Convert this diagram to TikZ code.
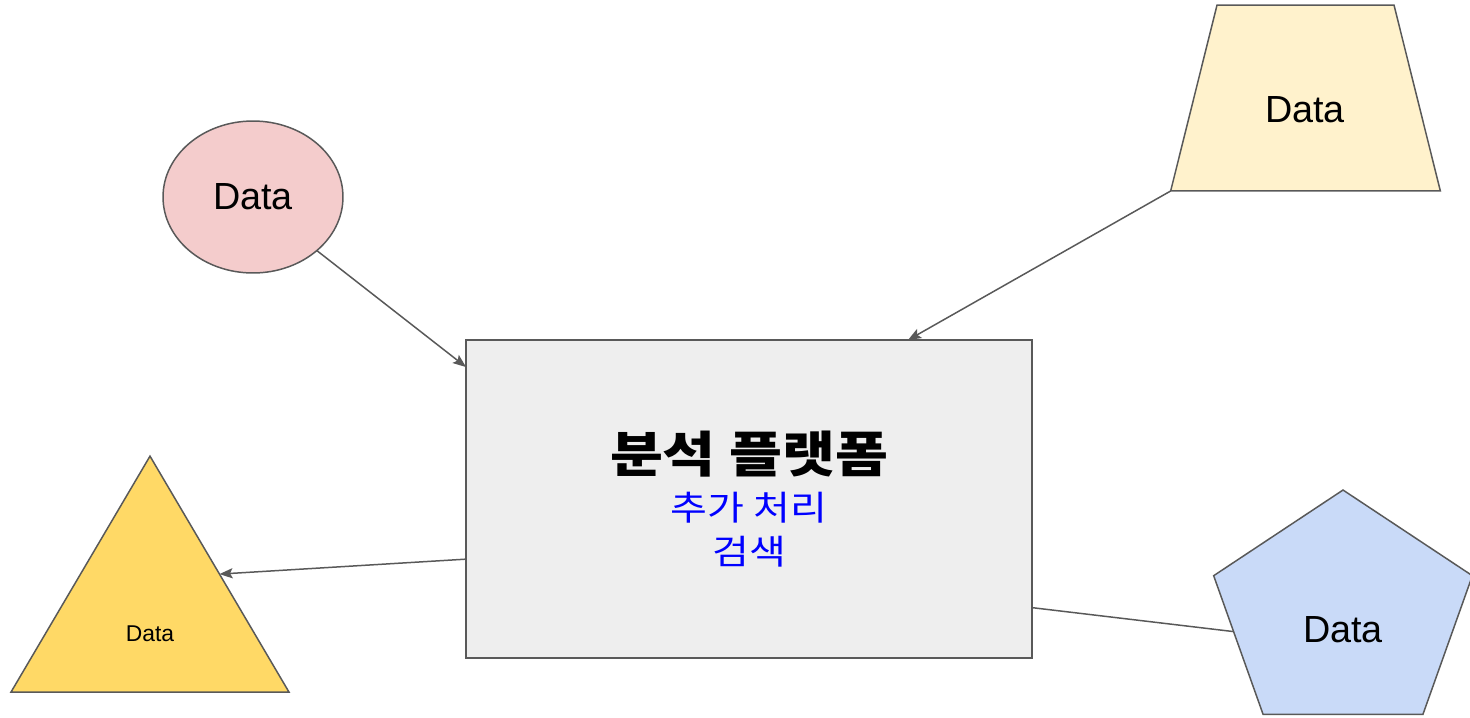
\documentclass[tikz,border=0pt]{standalone}
\usepackage{fontspec}
\setmainfont{Liberation Sans}
\newfontfamily\krfont[FakeStretch=1.17]{Noto Sans CJK KR}
\usetikzlibrary{shapes,arrows.meta,positioning}
\definecolor{linegray}{HTML}{595959}
\definecolor{pinkfill}{HTML}{F4CCCC}
\definecolor{creamfill}{HTML}{FFF2CC}
\definecolor{yellowfill}{HTML}{FFD966}
\definecolor{bluefill}{HTML}{C9DAF8}
\definecolor{grayfill}{HTML}{EEEEEE}

\begin{document}
\begin{tikzpicture}[x=0.02cm,y=-0.02cm]
		\tikzstyle{shapen} = [draw=linegray, line width=0.85pt, outer sep=0pt, inner sep=0pt];
		\tikzstyle{datatext} = [font=\fontsize{21.5pt}{26pt}\selectfont];
		\tikzstyle{conn} = [draw=linegray, line width=0.85pt];
		\tikzstyle{arr} = [conn, -{Stealth[length=7.5pt,width=5.8pt,inset=1.5pt]}];
		\useasboundingbox (0,0) rectangle (1470,717);
		\node[shapen, rectangle, fill=grayfill, minimum width=11.32cm, minimum height=6.36cm,
		align=center, font=\krfont\fontsize{19.5pt}{25pt}\selectfont](platform) at (749,499)
		{{\fontsize{28pt}{34pt}\selectfont\bfseries 분석 플랫폼}\\[2pt]
		{\color{blue}추가 처리}\\{\color{blue}검색}};
		\node[shapen, ellipse, fill=pinkfill, minimum width=3.6cm, minimum height=3.04cm, datatext](circ) at (253,197) {Data};
		\node[shapen, trapezium, trapezium left angle=76, trapezium right angle=76,
		fill=creamfill, text width=3.54cm, text height=3.72cm, text depth=0pt](trap) at (1305.5,98) {};
		\node[datatext](traptext) at (1305,110) {Data};
		\begin{scope}[shift={(150,613.4)}, yscale=0.98]
			\node[shapen, regular polygon, regular polygon sides=3, fill=yellowfill, minimum size=6.42cm, transform shape](tri) at (0,0) {};
		\end{scope}
		\node[font=\fontsize{13pt}{16pt}\selectfont](tritext) at (150,634) {Data};
		\begin{scope}[shift={(1343,614)}, xscale=1.097]
			\node[shapen, regular polygon, regular polygon sides=5, fill=bluefill, minimum size=4.96cm, transform shape](penta) at (0,0) {};
		\end{scope}
		\node[datatext](pentatext) at (1343,630) {Data};
		\draw[arr] (circ.-40.7) -- (platform.155.8);
		\draw[arr] (trap.bottom left corner) -- (platform.45.2);
		\draw[arr] (platform.192.2) -- (tri.side 3);
		\draw[conn] (platform.-21.2) -- (penta.190);
	\end{tikzpicture}
\end{document}
